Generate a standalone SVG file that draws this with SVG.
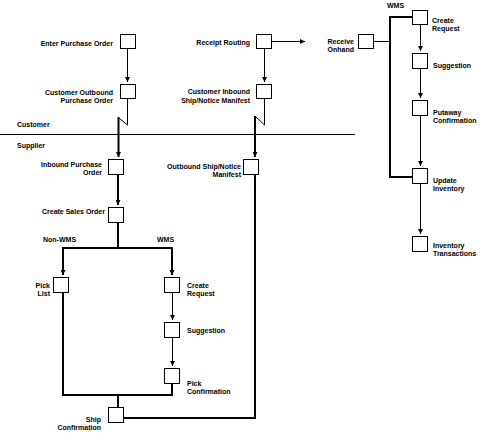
<svg xmlns="http://www.w3.org/2000/svg" width="482" height="434" viewBox="0 0 482 434">
<style>
.bx{fill:#fff;stroke:#000;stroke-width:1}
.t{font-family:"Liberation Sans",Arial,sans-serif;font-size:7px;font-weight:bold;fill:#000}
.e{text-anchor:end}
.th{fill:none;stroke:#000;stroke-width:1}
.tk{fill:none;stroke:#000;stroke-width:2}
</style>
<defs>
<marker id="ah" viewBox="0 0 5 5" refX="5" refY="2.5" markerWidth="5" markerHeight="5" markerUnits="userSpaceOnUse" orient="auto">
<path d="M0,0 L5,2.5 L0,5 z" fill="#000"/>
</marker>
</defs>
<rect width="482" height="434" fill="#fff"/>
<g id="labels">
<text class="t" x="17" y="127">Customer</text>
<text class="t" x="17" y="148">Supplier</text>
<text class="t" x="387" y="8">WMS</text>
<text class="t" x="43" y="242">Non-WMS</text>
<text class="t" x="157" y="242">WMS</text>
</g>
<g id="connectors">
<line x1="0" y1="134.5" x2="355" y2="134.5" class="th"/>
<line x1="127.5" y1="48" x2="127.5" y2="82" class="th" marker-end="url(#ah)"/>
<polyline points="127.5,98 127.5,125 119,118" class="th"/>
<line x1="118.5" y1="117" x2="118.5" y2="157" class="tk" marker-end="url(#ah)"/>
<line x1="264.5" y1="48" x2="264.5" y2="82" class="th" marker-end="url(#ah)"/>
<line x1="272" y1="41.5" x2="305" y2="41.5" class="th" marker-end="url(#ah)"/>
<polyline points="264.5,98 264.5,125 256,117" class="th"/>
<line x1="255" y1="116" x2="255" y2="157" class="tk" marker-end="url(#ah)"/>
<line x1="373" y1="41.5" x2="390" y2="41.5" class="th"/>
<polyline points="412,17 390,17 390,177 412,177" class="tk"/>
<line x1="420.5" y1="24" x2="420.5" y2="51" class="th" marker-end="url(#ah)"/>
<line x1="420.5" y1="68" x2="420.5" y2="98" class="th" marker-end="url(#ah)"/>
<line x1="420.5" y1="115" x2="420.5" y2="166" class="th" marker-end="url(#ah)"/>
<line x1="420.5" y1="183" x2="420.5" y2="234" class="th" marker-end="url(#ah)"/>
<line x1="118" y1="174" x2="118" y2="205" class="tk" marker-end="url(#ah)"/>
<line x1="118" y1="222" x2="118" y2="248" class="tk"/>
<polyline points="63,275 63,248 172,248 172,275" class="tk"/>
<line x1="63" y1="248" x2="63" y2="275" class="tk" marker-end="url(#ah)"/>
<line x1="172" y1="248" x2="172" y2="275" class="tk" marker-end="url(#ah)"/>
<line x1="172.5" y1="292" x2="172.5" y2="320" class="th" marker-end="url(#ah)"/>
<line x1="172.5" y1="337" x2="172.5" y2="366" class="th" marker-end="url(#ah)"/>
<polyline points="63,292 63,395 172,395 172,383" class="tk"/>
<line x1="118" y1="395" x2="118" y2="407" class="tk"/>
<polyline points="124,418 255,418 255,174" class="tk"/>
</g>
<g id="enter-po"><rect class="bx" x="120.5" y="34.5" width="15" height="14"/><text class="t e" x="113" y="46">Enter Purchase Order</text></g>
<g id="cust-outbound-po"><rect class="bx" x="120.5" y="84.5" width="15" height="14"/><text class="t e" x="113" y="95">Customer Outbound</text><text class="t e" x="113" y="103">Purchase Order</text></g>
<g id="receipt-routing"><rect class="bx" x="256.5" y="34.5" width="15" height="14"/><text class="t e" x="250" y="45">Receipt Routing</text></g>
<g id="receive-onhand"><rect class="bx" x="358.5" y="34.5" width="15" height="14"/><text class="t e" x="354" y="44">Receive</text><text class="t e" x="354" y="52">Onhand</text></g>
<g id="cust-inbound"><rect class="bx" x="256.5" y="84.5" width="15" height="14"/><text class="t e" x="250" y="94">Customer Inbound</text><text class="t e" x="250" y="103">Ship/Notice Manifest</text></g>
<g id="wms-create-request"><rect class="bx" x="412.5" y="10.5" width="15" height="14"/><text class="t" x="432" y="23">Create</text><text class="t" x="432" y="31">Request</text></g>
<g id="wms-suggestion"><rect class="bx" x="412.5" y="53.5" width="15" height="15"/><text class="t" x="433" y="68">Suggestion</text></g>
<g id="putaway"><rect class="bx" x="412.5" y="100.5" width="15" height="15"/><text class="t" x="433" y="115">Putaway</text><text class="t" x="433" y="123">Confirmation</text></g>
<g id="update-inventory"><rect class="bx" x="412.5" y="168.5" width="15" height="15"/><text class="t" x="433" y="183">Update</text><text class="t" x="433" y="191">Inventory</text></g>
<g id="inventory-transactions"><rect class="bx" x="412.5" y="236.5" width="15" height="15"/><text class="t" x="433" y="248">Inventory</text><text class="t" x="433" y="256">Transactions</text></g>
<g id="inbound-po"><rect class="bx" x="108.5" y="159.5" width="15" height="15"/><text class="t e" x="102" y="167">Inbound Purchase</text><text class="t e" x="102" y="175">Order</text></g>
<g id="outbound-ship"><rect class="bx" x="243.5" y="159.5" width="15" height="15"/><text class="t e" x="241" y="169">Outbound Ship/Notice</text><text class="t e" x="241" y="177">Manifest</text></g>
<g id="create-sales-order"><rect class="bx" x="108.5" y="207.5" width="15" height="15"/><text class="t e" x="105" y="214">Create Sales Order</text></g>
<g id="pick-list"><rect class="bx" x="53.5" y="277.5" width="15" height="15"/><text class="t e" x="50" y="288">Pick</text><text class="t e" x="50" y="296">List</text></g>
<g id="create-request"><rect class="bx" x="164.5" y="277.5" width="15" height="15"/><text class="t" x="187" y="288">Create</text><text class="t" x="187" y="296">Request</text></g>
<g id="suggestion"><rect class="bx" x="164.5" y="322.5" width="15" height="15"/><text class="t" x="187" y="333">Suggestion</text></g>
<g id="pick-confirmation"><rect class="bx" x="164.5" y="368.5" width="15" height="15"/><text class="t" x="187" y="386">Pick</text><text class="t" x="187" y="394">Confirmation</text></g>
<g id="ship-confirmation"><rect class="bx" x="108.5" y="407.5" width="15" height="15"/><text class="t e" x="101" y="422">Ship</text><text class="t e" x="101" y="430">Confirmation</text></g>
</svg>
